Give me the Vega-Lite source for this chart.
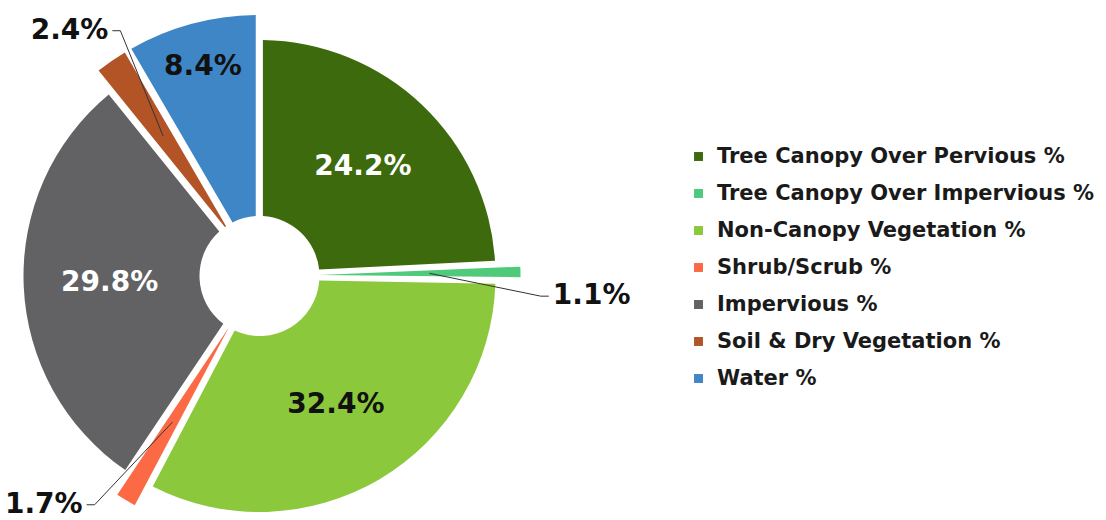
{
  "$schema": "https://vega.github.io/schema/vega-lite/v6.json",
  "width": 519,
  "height": 488,
  "autosize": {"type": "none"},
  "padding": {"left": 0, "top": 32, "right": 587, "bottom": 0},
  "background": "white",
  "config": {"view": {"stroke": null}, "font": "DejaVu Sans"},
  "data": {
    "values": [
      {"i": 1, "cat": "Tree Canopy Over Pervious %", "pct": 24.2},
      {"i": 2, "cat": "Tree Canopy Over Impervious %", "pct": 1.1},
      {"i": 3, "cat": "Non-Canopy Vegetation %", "pct": 32.4},
      {"i": 4, "cat": "Shrub/Scrub %", "pct": 1.7},
      {"i": 5, "cat": "Impervious %", "pct": 29.8},
      {"i": 6, "cat": "Soil & Dry Vegetation %", "pct": 2.4},
      {"i": 7, "cat": "Water %", "pct": 8.4}
    ]
  },
  "transform": [
    {"window": [{"op": "sum", "field": "pct", "as": "cum"}], "sort": [{"field": "i"}], "frame": [null, 0]},
    {"joinaggregate": [{"op": "sum", "field": "pct", "as": "total"}]},
    {"calculate": "format(datum.pct, '.1f') + '%'", "as": "label"},
    {"calculate": "datum.pct >= 5 ? datum.label : ''", "as": "inlabel"},
    {"calculate": "2 * PI * (datum.cum - datum.pct / 2) / datum.total", "as": "mid"},
    {"calculate": "datum.mid + PI / 36", "as": "lab"},
    {"calculate": "170 * sin(datum.mid)", "as": "x1"},
    {"calculate": "170 * cos(datum.mid)", "as": "y1"},
    {"calculate": "282 * sin(datum.lab)", "as": "x2"},
    {"calculate": "282 * cos(datum.lab)", "as": "y2"},
    {"calculate": "datum.x2 + (datum.x2 > 0 ? 8 : -8)", "as": "x3"}
  ],
  "layer": [
    {
      "mark": {"type": "arc", "innerRadius": 60, "padAngle": 0.028},
      "encoding": {
        "theta": {"field": "pct", "type": "quantitative", "stack": true},
        "order": {"field": "i", "type": "quantitative"},
        "radius": {"value": {"expr": "datum.pct < 10 ? 261 : 236"}},
        "color": {
          "field": "cat",
          "type": "nominal",
          "sort": null,
          "scale": {
            "domain": ["Tree Canopy Over Pervious %", "Tree Canopy Over Impervious %", "Non-Canopy Vegetation %", "Shrub/Scrub %", "Impervious %", "Soil & Dry Vegetation %", "Water %"],
            "range": ["#3d6a0c", "#4fc97a", "#8cc83c", "#fb6a45", "#626264", "#b35427", "#3f86c6"]
          },
          "legend": {
            "orient": "none",
            "legendX": 688,
            "legendY": 114,
            "title": null,
            "symbolType": "square",
            "symbolSize": 80,
            "symbolStrokeWidth": 0,
            "labelFont": "DejaVu Sans",
            "labelFontSize": 21,
            "labelFontWeight": "bold",
            "labelColor": "#1a1a1a",
            "labelOffset": 8,
            "rowPadding": 15,
            "labelLimit": 500,
            "padding": 0
          }
        }
      }
    },
    {
      "mark": {"type": "text", "fontSize": 28, "fontWeight": "bold", "font": "DejaVu Sans"},
      "encoding": {
        "theta": {"field": "pct", "type": "quantitative", "stack": true},
        "order": {"field": "i", "type": "quantitative"},
        "radius": {"value": {"expr": "datum.pct < 10 ? 217 : 150"}},
        "text": {"field": "inlabel"},
        "color": {
          "condition": {"test": "datum.cat === 'Tree Canopy Over Pervious %' || datum.cat === 'Impervious %'", "value": "white"},
          "value": "#111111"
        }
      }
    },
    {
      "transform": [{"filter": "datum.pct < 5"}],
      "mark": {"type": "rule", "color": "#333333", "strokeWidth": 1},
      "encoding": {
        "x": {"field": "x1", "type": "quantitative", "scale": {"domain": [-259.5, 259.5], "nice": false, "zero": false}, "axis": null},
        "y": {"field": "y1", "type": "quantitative", "scale": {"domain": [-244, 244], "nice": false, "zero": false}, "axis": null},
        "x2": {"field": "x2"},
        "y2": {"field": "y2"}
      }
    },
    {
      "transform": [{"filter": "datum.pct < 5"}],
      "mark": {"type": "rule", "color": "#333333", "strokeWidth": 1},
      "encoding": {
        "x": {"field": "x2", "type": "quantitative"},
        "x2": {"field": "x3"},
        "y": {"field": "y2", "type": "quantitative"}
      }
    },
    {
      "transform": [{"filter": "datum.pct < 5"}],
      "mark": {
        "type": "text",
        "fontSize": 28,
        "fontWeight": "bold",
        "font": "DejaVu Sans",
        "color": "#111111",
        "baseline": "middle",
        "align": {"expr": "datum.x2 > 0 ? 'left' : 'right'"},
        "dx": {"expr": "datum.x2 > 0 ? 4 : -4"}
      },
      "encoding": {
        "x": {"field": "x3", "type": "quantitative"},
        "y": {"field": "y2", "type": "quantitative"},
        "text": {"field": "label"}
      }
    }
  ]
}
